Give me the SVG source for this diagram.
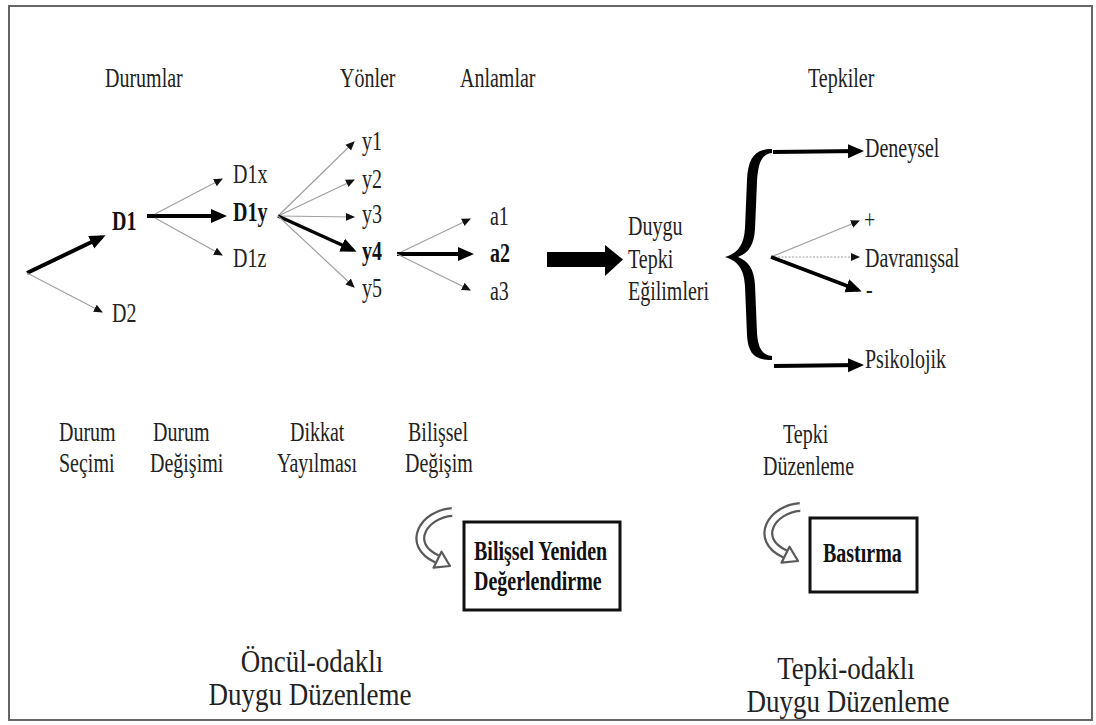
<svg xmlns="http://www.w3.org/2000/svg" width="1096" height="725" viewBox="0 0 1096 725" font-family="Liberation Serif, DejaVu Serif, serif">
<style>
text{font-family:'Liberation Serif','DejaVu Serif',serif;fill:#222;font-size:20px}
.b{font-weight:bold;fill:#111}
.big{font-size:27px}
.thin{stroke:#a0a0a0;stroke-width:1.2;fill:none;marker-end:url(#s)}
.thick{stroke:#000;stroke-width:4;fill:none;marker-end:url(#b)}
.curve{fill:none;stroke:#5a5a5a;stroke-width:10}
.curvein{fill:none;stroke:#fff;stroke-width:5.5}
.head{fill:#fff;stroke:#5a5a5a;stroke-width:2.2;stroke-linejoin:round}
.box{fill:#fff;stroke:#111;stroke-width:3}
</style>
<defs>
<marker id="s" markerWidth="10" markerHeight="10" refX="8" refY="5" orient="auto" markerUnits="userSpaceOnUse"><path d="M0,1 L9,5 L0,9z" fill="#111"/></marker>
<marker id="b" markerWidth="18" markerHeight="16" refX="12" refY="8" orient="auto" markerUnits="userSpaceOnUse"><path d="M0,1 L16,8 L0,15z" fill="#000"/></marker>
</defs>
<rect x="9" y="6" width="1083" height="714" fill="#fff" stroke="#666" stroke-width="2"/>

<g id="headers">
<text transform="translate(105,87) scale(1,1.35)">Durumlar</text>
<text transform="translate(340,87) scale(1,1.35)">Yönler</text>
<text transform="translate(460,87) scale(1,1.35)">Anlamlar</text>
<text transform="translate(808,87) scale(1,1.35)">Tepkiler</text>
</g>

<g id="connectors">
<line class="thick" x1="27" y1="273" x2="102" y2="237"/>
<line class="thin" x1="27" y1="273" x2="102" y2="312"/>
<line class="thick" x1="147" y1="216" x2="223" y2="216"/>
<line class="thin" x1="155" y1="214" x2="222" y2="179"/>
<line class="thin" x1="155" y1="218" x2="222" y2="255"/>
<line class="thin" x1="278" y1="216" x2="354" y2="142"/>
<line class="thin" x1="278" y1="216" x2="354" y2="180"/>
<line class="thin" x1="278" y1="216" x2="354" y2="217"/>
<line class="thick" style="stroke-width:3.5" x1="278" y1="216" x2="353" y2="250"/>
<line class="thin" x1="278" y1="216" x2="354" y2="287"/>
<line class="thin" x1="397" y1="254" x2="470" y2="219"/>
<line class="thick" x1="397" y1="254" x2="470" y2="254"/>
<line class="thin" x1="397" y1="254" x2="470" y2="290"/>
<polygon points="547,252 605,252 605,245 623,259.5 605,276 605,267 547,267" fill="#000"/>
<line class="thick" x1="773" y1="152" x2="860" y2="151"/>
<line class="thin" x1="771" y1="257" x2="859" y2="221"/>
<line class="thin" style="stroke-dasharray:2,1.5" x1="771" y1="257" x2="859" y2="257"/>
<line class="thick" style="stroke-width:3.5" x1="771" y1="257" x2="858" y2="290"/>
<line class="thick" x1="774" y1="366" x2="860" y2="365"/>
</g>

<g id="brace">
<path d="M 772 149 C 755 149 748 158 747 180 L 745 228 C 744 245 738 253 725 257 C 738 261 744 269 745 286 L 747 335 C 748 354 755 360 772 360 L 772 356 C 762 355 758 348 757 333 L 755 285 C 754 268 748 261 738 257 C 748 253 754 246 755 229 L 757 182 C 758 162 762 154 772 153 Z" fill="#000"/>
</g>

<g id="n-D1"><text class="b" transform="translate(112,230) scale(1,1.35)">D1</text></g>
<g id="n-D2"><text transform="translate(112,322) scale(1,1.35)">D2</text></g>
<g id="n-D1x"><text transform="translate(233,183) scale(1,1.35)">D1x</text></g>
<g id="n-D1y"><text class="b" transform="translate(233,221) scale(1,1.35)">D1y</text></g>
<g id="n-D1z"><text transform="translate(233,267) scale(1,1.35)">D1z</text></g>
<g id="n-y1"><text transform="translate(362,150) scale(1,1.35)">y1</text></g>
<g id="n-y2"><text transform="translate(362,188) scale(1,1.35)">y2</text></g>
<g id="n-y3"><text transform="translate(362,223) scale(1,1.35)">y3</text></g>
<g id="n-y4"><text class="b" transform="translate(362,260) scale(1,1.35)">y4</text></g>
<g id="n-y5"><text transform="translate(362,297) scale(1,1.35)">y5</text></g>
<g id="n-a1"><text transform="translate(490,225) scale(1,1.35)">a1</text></g>
<g id="n-a2"><text class="b" transform="translate(490,262) scale(1,1.35)">a2</text></g>
<g id="n-a3"><text transform="translate(490,300) scale(1,1.35)">a3</text></g>
<g id="n-duygu">
<text transform="translate(628,235) scale(1,1.35)">Duygu</text>
<text transform="translate(628,268) scale(1,1.35)">Tepki</text>
<text transform="translate(628,300) scale(1,1.35)">Eğilimleri</text>
</g>
<g id="n-deneysel"><text transform="translate(865,157) scale(1,1.35)">Deneysel</text></g>
<g id="n-plus"><text transform="translate(864,229) scale(1,1.35)">+</text></g>
<g id="n-davranissal"><text transform="translate(865,267) scale(1,1.35)">Davranışsal</text></g>
<g id="n-minus"><text transform="translate(866,298) scale(1,1.35)">-</text></g>
<g id="n-psikolojik"><text transform="translate(865,368) scale(1,1.35)">Psikolojik</text></g>

<g id="stage-labels">
<text transform="translate(59,441) scale(1,1.35)">Durum</text>
<text transform="translate(59,472) scale(1,1.35)">Seçimi</text>
<text transform="translate(153,441) scale(1,1.35)">Durum</text>
<text transform="translate(150,472) scale(1,1.35)">Değişimi</text>
<text transform="translate(290,441) scale(1,1.35)">Dikkat</text>
<text transform="translate(277,472) scale(1,1.35)">Yayılması</text>
<text transform="translate(408,441) scale(1,1.35)">Bilişsel</text>
<text transform="translate(405,472) scale(1,1.35)">Değişim</text>
<text transform="translate(783,443) scale(1,1.35)">Tepki</text>
<text transform="translate(763,475) scale(1,1.35)">Düzenleme</text>
</g>

<g id="n-bilissel-yeniden">
<path class="curve" d="M 452 512 C 424 514 405 544 437 559"/>
<path class="curvein" d="M 452 512 C 424 514 405 544 437 559"/>
<polygon class="head" points="450,566 433.5,567.7 441.5,551.7"/>
<rect class="box" x="464" y="522" width="156" height="88"/>
<text class="b" transform="translate(474,560) scale(1,1.35)">Bilişsel Yeniden</text>
<text class="b" transform="translate(474,590) scale(1,1.35)">Değerlendirme</text>
</g>

<g id="n-bastirma">
<path class="curve" d="M 800 507 C 772 509 753 539 785 554"/>
<path class="curvein" d="M 800 507 C 772 509 753 539 785 554"/>
<polygon class="head" points="798,561 781.5,562.7 789.5,546.7"/>
<rect class="box" x="810" y="518" width="107" height="74"/>
<text class="b" transform="translate(823,562) scale(1,1.35)">Bastırma</text>
</g>

<g id="bottom-titles">
<text class="big" text-anchor="middle" transform="translate(312,672) scale(1,1.15)">Öncül-odaklı</text>
<text class="big" text-anchor="middle" transform="translate(310,705) scale(1,1.15)">Duygu Düzenleme</text>
<text class="big" text-anchor="middle" transform="translate(846,679) scale(1,1.15)">Tepki-odaklı</text>
<text class="big" text-anchor="middle" transform="translate(848,712) scale(1,1.15)">Duygu Düzenleme</text>
</g>
</svg>
